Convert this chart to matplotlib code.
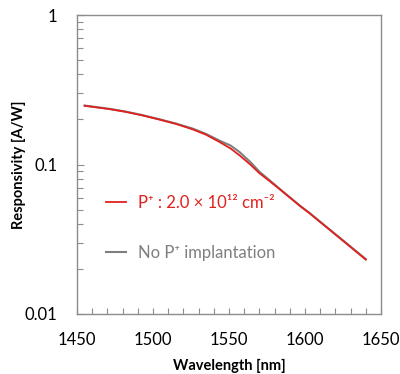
import matplotlib
matplotlib.use("Agg")
import matplotlib.pyplot as plt
from matplotlib.ticker import LogLocator, MultipleLocator, FixedLocator, NullFormatter, FixedFormatter

plt.rcParams['font.family'] = ['Lato', 'DejaVu Sans']

# Data
wl_red = [1455, 1471, 1482, 1493, 1504, 1515, 1526, 1535, 1544, 1551, 1557, 1564,
          1570, 1577, 1584, 1597, 1603, 1610, 1623, 1640]
resp_red = [0.247, 0.235, 0.225, 0.213, 0.200, 0.187, 0.172, 0.158, 0.141, 0.128, 0.115, 0.100,
            0.0875, 0.077, 0.0675, 0.0525, 0.0472, 0.0412, 0.0321, 0.0231]
wl_gray = [1455, 1471, 1482, 1493, 1504, 1515, 1526, 1535, 1544, 1551, 1557, 1564,
           1570, 1577, 1584, 1597, 1603, 1610, 1623, 1640]
resp_gray = [0.248, 0.236, 0.226, 0.214, 0.201, 0.188, 0.174, 0.160, 0.144, 0.134, 0.121, 0.104,
             0.0895, 0.078, 0.0678, 0.0527, 0.0474, 0.0414, 0.0323, 0.0233]

label_red = "P\u207a : 2.0 \u00d7 10\u00b9\u00b2 cm\u207b\u00b2"
label_gray = "No P\u207a implantation"

xticks = [1450, 1500, 1550, 1600, 1650]
yticks = [0.01, 0.1, 1]
ytick_labels = ["0.01", "0.1", "1"]

red = "#e0201e"
gray = "#7f7f7f"
spine = "#8c8c8c"

fig = plt.figure(figsize=(4.0, 3.74), dpi=100)
ax = fig.add_axes([77/400, 60/374, 304/400, 299/374])

ax.plot(wl_gray, resp_gray, color=gray, lw=1.5, label=label_gray, zorder=2)
ax.plot(wl_red, resp_red, color=red, lw=1.3, label=label_red, zorder=3)

ax.set_yscale('log')
ax.set_xlim(1450, 1650)
ax.set_ylim(0.01, 1)

ax.xaxis.set_major_locator(FixedLocator(xticks))
ax.xaxis.set_minor_locator(MultipleLocator(10))
ax.yaxis.set_major_locator(FixedLocator(yticks))
ax.yaxis.set_major_formatter(FixedFormatter(ytick_labels))
ax.yaxis.set_minor_locator(LogLocator(base=10, subs=range(2, 10)))
ax.yaxis.set_minor_formatter(NullFormatter())

ax.tick_params(axis='both', which='both', direction='in', color=spine, width=0.8)
ax.tick_params(axis='both', which='major', length=5, labelsize=12, colors='black')
ax.tick_params(axis='both', which='minor', length=4)
ax.tick_params(axis='x', which='major', pad=13, length=4)
ax.tick_params(axis='y', which='major', pad=14)
for lab in ax.get_xticklabels() + ax.get_yticklabels():
    lab.set_color('black')
ax.tick_params(axis='both', which='both', color=spine)

for s in ax.spines.values():
    s.set_color(spine)
    s.set_linewidth(1.0)

ax.set_xlabel("Wavelength [nm]", fontsize=10.5, fontweight='bold', labelpad=8)
ax.set_ylabel("Responsivity [A/W]", fontsize=10.5, fontweight='bold')
ax.yaxis.set_label_coords(-0.168, 0.5)

handles, labels = ax.get_legend_handles_labels()
leg = ax.legend(handles[::-1], labels[::-1], loc='upper left', bbox_to_anchor=(0.095, 0.397),
                frameon=False, fontsize=12, handlelength=1.2, handletextpad=0.75,
                labelspacing=2.0, borderpad=0, borderaxespad=0)
for t, c in zip(leg.get_texts(), [red, gray]):
    t.set_color(c)

fig.savefig("out.png", dpi=100)
